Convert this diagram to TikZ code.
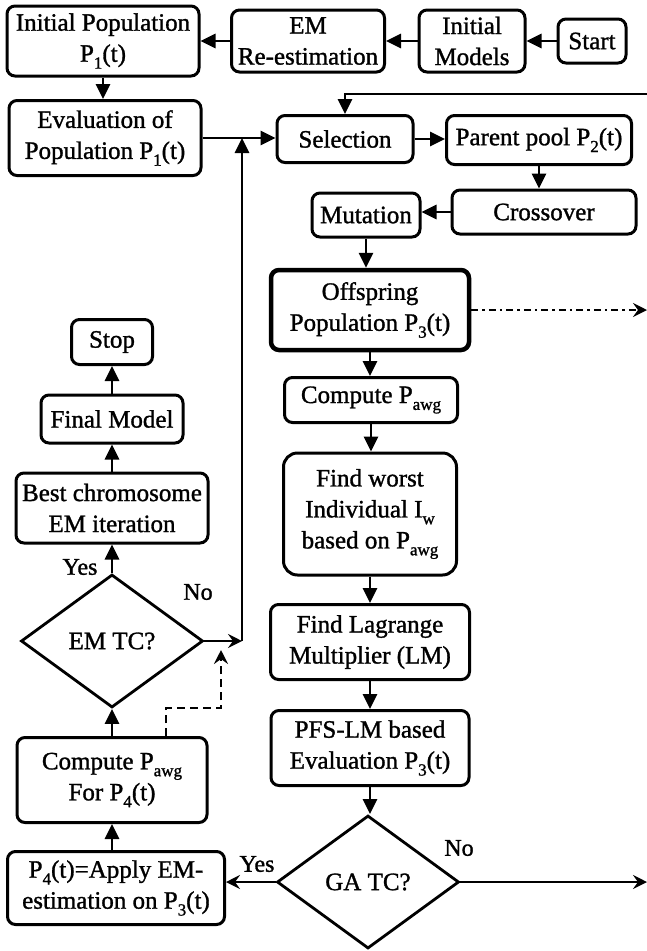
\documentclass[tikz,border=0pt]{standalone}
\usepackage{fontspec}
\setmainfont{Liberation Serif}[FakeBold=1.2]
\usetikzlibrary{shapes.geometric,arrows.meta}
\newcommand\sbs[1]{\raisebox{-0.6ex}{\fontsize{17}{17}\selectfont #1}}
\tikzset{
    blk/.style={draw, line width=3pt, rounded corners=8pt, align=center, inner sep=0pt,
        font=\fontsize{25}{31}\selectfont},
    dec/.style={draw, diamond, line width=2.8pt, inner sep=0pt, aspect=1.37,
        minimum width=182pt, minimum height=133pt, font=\fontsize{25}{31}\selectfont},
    lbl/.style={inner sep=0pt, font=\fontsize{24}{31}\selectfont},
    flowarr/.style={line width=2.8pt, -{Triangle[length=15pt,width=14pt]}},
    exitarr/.style={line width=2.8pt, -{Stealth[length=14pt,width=14pt,inset=5pt]}},
}
\begin{document}
\begin{tikzpicture}[x=1pt, y=-1pt]
                \useasboundingbox (0,0) rectangle (647,951);
                \node[blk, minimum width=192pt, minimum height=70pt] (init) at (103,41) {Initial Population\\P\sbs{1}(t)};
                \node[blk, minimum width=153pt, minimum height=62pt] (em) at (308,41) {EM\\Re-estimation};
                \node[blk, minimum width=106pt, minimum height=62pt] (models) at (472,41) {Initial\\Models};
                \node[blk, minimum width=68pt, minimum height=44pt] (start) at (592,41) {Start};
                \node[blk, minimum width=192pt, minimum height=75pt] (eval) at (105,138) {Evaluation of\\Population P\sbs{1}(t)};
                \node[blk, minimum width=136pt, minimum height=47pt] (sel) at (345,139) {Selection};
                \node[blk, minimum width=185pt, minimum height=49pt] (pool) at (539,140) {Parent pool P\sbs{2}(t)};
                \node[blk, minimum width=184pt, minimum height=44pt] (cross) at (544,212) {Crossover};
                \node[blk, minimum width=108pt, minimum height=44pt] (mut) at (366,215) {Mutation};
                \node[blk, line width=4.5pt, minimum width=198pt, minimum height=80pt] (off) at (370,310) {Offspring\\Population P\sbs{3}(t)};
                \node[blk, minimum width=173pt, minimum height=45pt] (cavg) at (371,400) {Compute P\sbs{awg}};
                \node[blk, rounded corners=14pt, minimum width=173pt, minimum height=122pt] (worst) at (370,514) {Find worst\\Individual I\sbs{w}\\based on P\sbs{awg}};
                \node[blk, minimum width=199pt, minimum height=75pt] (lag) at (370,642) {Find Lagrange\\Multiplier (LM)};
                \node[blk, minimum width=198pt, minimum height=75pt] (pfs) at (370,748) {PFS-LM based\\Evaluation P\sbs{3}(t)};
                \node[dec] (gatc) at (368,882) {GA TC?};
                \node[blk, minimum width=217pt, minimum height=73pt] (p4) at (116,888) {P\sbs{4}(t)=Apply EM-\\estimation on P\sbs{3}(t)};
                \node[blk, minimum width=190pt, minimum height=85pt] (cp4) at (112,780) {Compute P\sbs{awg}\\For P\sbs{4}(t)};
                \node[dec] (emtc) at (112,641) {EM TC?};
                \node[blk, minimum width=192pt, minimum height=70pt] (best) at (112,508) {Best chromosome\\EM iteration};
                \node[blk, minimum width=142pt, minimum height=48pt] (final) at (112,419) {Final Model};
                \node[blk, minimum width=81pt, minimum height=45pt] (stop) at (112,342) {Stop};
                \node[lbl] (yes1) at (80,567) {Yes};
                \node[lbl] (no1) at (198,592) {No};
                \node[lbl] (yes2) at (257,864) {Yes};
                \node[lbl] (no2) at (459,848) {No};
                \coordinate (topin) at (647,94);
                \coordinate (offout) at (647,310);
                \coordinate (gaout) at (647,882);
                \coordinate (jn) at (242,641);
                \coordinate (dk) at (166,708);
                \coordinate (dt) at (221,650);
                \draw[flowarr] (start) -- (models);
                \draw[flowarr] (models) -- (em);
                \draw[flowarr] (em) -- (init);
                \draw[flowarr] (init.south) -- (init.south |- eval.north);
                \draw[flowarr] (eval.east) -- (sel.west |- eval.east);
                \draw[flowarr] (topin) -| (sel.north);
                \draw[flowarr] (sel.east) -- (sel.east -| pool.west);
                \draw[flowarr] (pool.south) -- (pool.south |- cross.north);
                \draw[flowarr] (cross.west) -- (cross.west -| mut.east);
                \draw[flowarr] (mut.south) -- (mut.south |- off.north);
                \draw[exitarr, dash pattern=on 7pt off 4pt on 2.5pt off 4pt] (off.east) -- (offout);
                \draw[flowarr] (off.south) -- (off.south |- cavg.north);
                \draw[flowarr] (cavg.south) -- (cavg.south |- worst.north);
                \draw[flowarr] (worst.south) -- (worst.south |- lag.north);
                \draw[flowarr] (lag.south) -- (lag.south |- pfs.north);
                \draw[flowarr] (pfs.south) -- (pfs.south |- gatc.north);
                \draw[exitarr] (gatc.east) -- (gaout);
                \draw[exitarr] (gatc.west) -- (gatc.west -| p4.east);
                \draw[flowarr] (cp4.south |- p4.north) -- (cp4.south);
                \draw[flowarr] (cp4.north) -- (emtc.south);
                \draw[flowarr] (emtc.north) -- (best.south);
                \draw[flowarr] (best) -- (final);
                \draw[flowarr] (final) -- (stop);
                \draw[exitarr] (emtc.east) -- (jn);
                \draw[flowarr] (jn) -- (jn |- eval.east);
                \draw[exitarr, dash pattern=on 8pt off 5pt] (cp4.north -| dk) -- (dk) -| (dt);
            \end{tikzpicture}
\end{document}
